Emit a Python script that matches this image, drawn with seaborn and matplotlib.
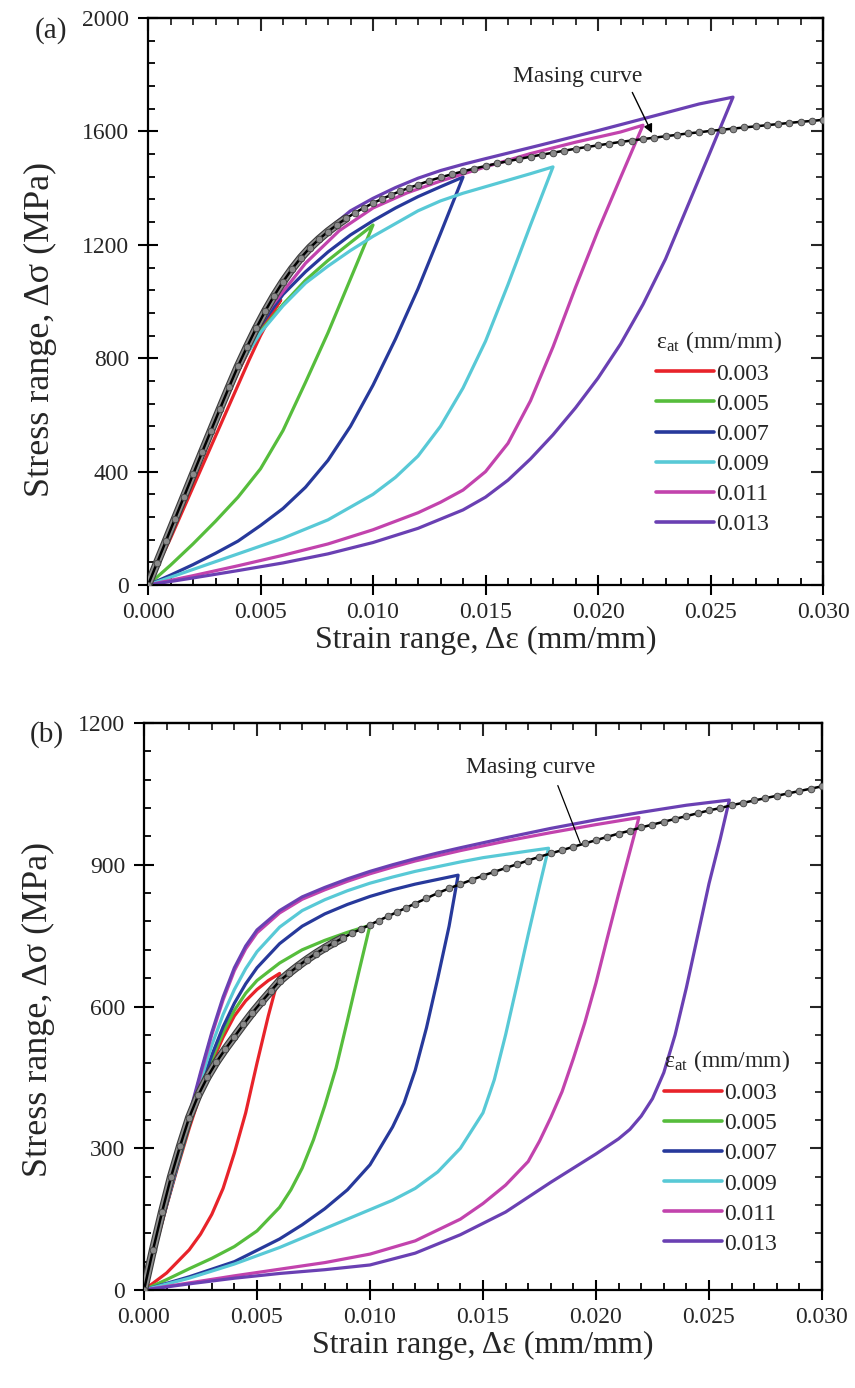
import matplotlib
matplotlib.use("Agg")
import matplotlib.pyplot as plt
import matplotlib.patheffects as pe
from matplotlib.ticker import MultipleLocator, FormatStrFormatter
import pandas as pd
import seaborn as sns

# amplitude levels and loop colours
AMPS = ["0.003", "0.005", "0.007", "0.009", "0.011", "0.013"]
COLORS = ["#e8232a", "#56bd3c", "#27399b", "#58c9d6", "#c243ad", "#6a40b3"]

# Masing curve (strain grid shared by both panels)
MASING_EPS = [0.0000, 0.0004, 0.0008, 0.0012, 0.0016, 0.0020, 0.0024, 0.0028, 0.0032, 0.0036,
              0.0040, 0.0044, 0.0048, 0.0052, 0.0056, 0.0060, 0.0064, 0.0068, 0.0072, 0.0076,
              0.0080, 0.0084, 0.0088, 0.0092, 0.0096, 0.0100, 0.0104, 0.0108, 0.0112, 0.0116,
              0.0120, 0.0125, 0.0130, 0.0135, 0.0140, 0.0145, 0.0150, 0.0155, 0.0160, 0.0165,
              0.0170, 0.0175, 0.0180, 0.0185, 0.0190, 0.0195, 0.0200, 0.0205, 0.0210, 0.0215,
              0.0220, 0.0225, 0.0230, 0.0235, 0.0240, 0.0245, 0.0250, 0.0255, 0.0260, 0.0265,
              0.0270, 0.0275, 0.0280, 0.0285, 0.0290, 0.0295, 0.0300]
MASING_A_SIG = [0, 78, 156, 234, 312, 390, 468, 545, 622, 698,
                772, 840, 905, 965, 1020, 1070, 1115, 1155, 1190, 1220,
                1247, 1271, 1293, 1313, 1331, 1347, 1362, 1376, 1389, 1401,
                1412, 1426, 1438, 1449, 1459, 1469, 1478, 1487, 1495, 1503,
                1511, 1518, 1525, 1532, 1539, 1545, 1551, 1557, 1563, 1568,
                1573, 1578, 1583, 1588, 1593, 1597, 1602, 1606, 1610, 1614,
                1618, 1622, 1626, 1630, 1634, 1637, 1641]
MASING_B_SIG = [0, 85, 165, 240, 305, 365, 412, 450, 482, 510,
                536, 562, 587, 610, 632, 654, 670, 685, 699, 712,
                724, 735, 745, 755, 764, 773, 782, 791, 800, 809,
                818, 829, 840, 850, 859, 868, 877, 885, 893, 901,
                909, 917, 924, 931, 938, 945, 952, 959, 966, 972,
                979, 985, 991, 997, 1003, 1009, 1015, 1020, 1026, 1031,
                1036, 1041, 1046, 1051, 1056, 1061, 1066]

# panel (a) loops: upper and lower branches, (strain range, stress range MPa)
A_UP_003 = [(0, 0), (0.001, 190), (0.002, 382), (0.003, 570), (0.004, 752), (0.0045, 830),
            (0.005, 900), (0.0055, 960), (0.0059, 1005)]
A_LO_003 = [(0, 0), (0.001, 165), (0.002, 345), (0.003, 525), (0.0035, 615), (0.004, 705),
            (0.0045, 795), (0.005, 880), (0.0055, 955), (0.0059, 1005)]
A_UP_005 = [(0, 0), (0.001, 195), (0.002, 390), (0.003, 582), (0.004, 768), (0.0045, 838),
            (0.005, 895), (0.006, 990), (0.007, 1075), (0.008, 1145), (0.009, 1208), (0.010, 1270)]
A_LO_005 = [(0, 0), (0.001, 70), (0.002, 145), (0.003, 225), (0.004, 310), (0.005, 410),
            (0.006, 545), (0.007, 715), (0.008, 890), (0.009, 1080), (0.010, 1270)]
A_UP_007 = [(0, 0), (0.001, 195), (0.002, 390), (0.003, 582), (0.004, 768), (0.005, 915),
            (0.006, 1025), (0.007, 1105), (0.008, 1175), (0.009, 1235), (0.010, 1285),
            (0.011, 1330), (0.012, 1370), (0.013, 1405), (0.014, 1439)]
A_LO_007 = [(0, 0), (0.001, 35), (0.002, 72), (0.003, 112), (0.004, 155), (0.005, 210),
            (0.006, 270), (0.007, 345), (0.008, 440), (0.009, 560), (0.010, 705),
            (0.011, 868), (0.012, 1045), (0.013, 1240), (0.014, 1439)]
A_UP_009 = [(0, 0), (0.001, 195), (0.002, 390), (0.003, 580), (0.004, 765), (0.005, 890),
            (0.006, 985), (0.007, 1065), (0.008, 1125), (0.009, 1180), (0.010, 1230),
            (0.011, 1275), (0.012, 1320), (0.013, 1355), (0.014, 1382), (0.015, 1405),
            (0.016, 1428), (0.017, 1451), (0.018, 1475)]
A_LO_009 = [(0, 0), (0.002, 55), (0.004, 110), (0.006, 165), (0.008, 230), (0.010, 320),
            (0.011, 380), (0.012, 455), (0.013, 560), (0.014, 695), (0.015, 860),
            (0.016, 1060), (0.017, 1270), (0.018, 1475)]
A_UP_011 = [(0, 0), (0.001, 196), (0.002, 392), (0.003, 585), (0.004, 770), (0.005, 920),
            (0.0055, 985), (0.007, 1135), (0.0085, 1250), (0.010, 1330), (0.0115, 1383),
            (0.013, 1425), (0.015, 1475), (0.017, 1522), (0.019, 1562), (0.021, 1598),
            (0.022, 1622)]
A_LO_011 = [(0, 0), (0.002, 33), (0.004, 68), (0.006, 105), (0.008, 145), (0.010, 195),
            (0.012, 255), (0.013, 292), (0.014, 335), (0.015, 400), (0.016, 500),
            (0.017, 650), (0.018, 840), (0.019, 1050), (0.020, 1250), (0.021, 1437),
            (0.022, 1622)]
A_UP_013 = [(0, 0), (0.001, 200), (0.002, 400), (0.003, 595), (0.004, 785), (0.005, 940),
            (0.006, 1075), (0.007, 1180), (0.008, 1255), (0.009, 1320), (0.010, 1364),
            (0.011, 1402), (0.012, 1435), (0.013, 1462), (0.014, 1484), (0.015, 1504),
            (0.0175, 1553), (0.020, 1603), (0.0225, 1655), (0.0245, 1697), (0.026, 1721)]
A_LO_013 = [(0, 0), (0.002, 25), (0.004, 51), (0.006, 78), (0.008, 110), (0.010, 150),
            (0.012, 200), (0.014, 265), (0.015, 310), (0.016, 370), (0.017, 445),
            (0.018, 530), (0.019, 625), (0.020, 730), (0.021, 850), (0.022, 990),
            (0.023, 1150), (0.024, 1340), (0.025, 1530), (0.026, 1721)]

# panel (b) loops
B_UP_003 = [(0, 0), (0.0005, 90), (0.001, 178), (0.0015, 262), (0.002, 342), (0.0025, 415),
            (0.003, 480), (0.0035, 535), (0.004, 580), (0.0045, 612), (0.005, 636),
            (0.0055, 655), (0.006, 670)]
B_LO_003 = [(0, 0), (0.001, 36), (0.002, 85), (0.0025, 118), (0.003, 160), (0.0035, 215),
            (0.004, 290), (0.0045, 375), (0.005, 480), (0.0055, 580), (0.006, 670)]
B_UP_005 = [(0, 0), (0.0005, 92), (0.001, 180), (0.0015, 265), (0.002, 348), (0.0025, 422),
            (0.003, 488), (0.0035, 545), (0.004, 592), (0.0045, 628), (0.005, 655),
            (0.006, 692), (0.007, 720), (0.008, 740), (0.009, 757), (0.010, 772)]
B_LO_005 = [(0, 0), (0.001, 22), (0.002, 45), (0.003, 67), (0.004, 92), (0.005, 125),
            (0.006, 175), (0.0065, 212), (0.007, 258), (0.0075, 318), (0.008, 390),
            (0.0085, 470), (0.009, 570), (0.0095, 672), (0.010, 772)]
B_UP_007 = [(0, 0), (0.0005, 92), (0.001, 180), (0.0015, 266), (0.002, 350), (0.0025, 428),
            (0.003, 497), (0.0035, 557), (0.004, 607), (0.0045, 648), (0.005, 682),
            (0.006, 733), (0.007, 770), (0.008, 796), (0.009, 816), (0.010, 833),
            (0.011, 847), (0.012, 859), (0.013, 869), (0.0139, 878)]
B_LO_007 = [(0, 0), (0.002, 28), (0.004, 60), (0.006, 108), (0.007, 138), (0.008, 172),
            (0.009, 212), (0.010, 265), (0.011, 345), (0.0115, 395), (0.012, 465),
            (0.0125, 555), (0.013, 660), (0.0135, 770), (0.0139, 878)]
B_UP_009 = [(0, 0), (0.0005, 93), (0.001, 182), (0.0015, 270), (0.002, 358), (0.0025, 442),
            (0.003, 518), (0.0035, 583), (0.004, 636), (0.0045, 680), (0.005, 716),
            (0.006, 768), (0.007, 803), (0.008, 826), (0.009, 845), (0.010, 861),
            (0.011, 874), (0.012, 886), (0.013, 896), (0.014, 906), (0.015, 915),
            (0.016, 922), (0.017, 929), (0.0179, 935)]
B_LO_009 = [(0, 0), (0.002, 25), (0.004, 55), (0.006, 90), (0.008, 130), (0.010, 170),
            (0.011, 190), (0.012, 215), (0.013, 250), (0.014, 300), (0.015, 375),
            (0.0155, 445), (0.016, 540), (0.0165, 645), (0.017, 752), (0.0175, 855),
            (0.0179, 935)]
B_UP_011 = [(0, 0), (0.0005, 93), (0.001, 182), (0.0015, 272), (0.002, 365), (0.0025, 455),
            (0.003, 540), (0.0035, 614), (0.004, 676), (0.0045, 722), (0.005, 756),
            (0.006, 798), (0.007, 827), (0.008, 847), (0.009, 865), (0.010, 881),
            (0.011, 895), (0.012, 908), (0.013, 919), (0.014, 930), (0.016, 950),
            (0.018, 968), (0.020, 985), (0.0219, 1000)]
B_LO_011 = [(0, 0), (0.002, 15), (0.004, 30), (0.006, 44), (0.008, 58), (0.010, 76),
            (0.012, 104), (0.014, 150), (0.015, 183), (0.016, 222), (0.017, 272),
            (0.0175, 315), (0.018, 365), (0.0185, 420), (0.019, 490), (0.0195, 565),
            (0.020, 650), (0.0205, 745), (0.021, 838), (0.0219, 1000)]
B_UP_013 = [(0, 0), (0.0005, 95), (0.001, 185), (0.0015, 275), (0.002, 370), (0.0025, 460),
            (0.003, 545), (0.0035, 620), (0.004, 682), (0.0045, 728), (0.005, 762),
            (0.006, 803), (0.007, 832), (0.008, 852), (0.009, 870), (0.010, 886),
            (0.011, 900), (0.012, 913), (0.013, 925), (0.014, 936), (0.016, 957),
            (0.018, 977), (0.020, 995), (0.022, 1011), (0.024, 1026), (0.0259, 1037)]
B_LO_013 = [(0, 0), (0.002, 13), (0.004, 25), (0.006, 35), (0.008, 43), (0.010, 53),
            (0.012, 78), (0.014, 117), (0.016, 165), (0.018, 228), (0.019, 258),
            (0.020, 288), (0.021, 320), (0.0215, 340), (0.022, 368), (0.0225, 405),
            (0.023, 460), (0.0235, 540), (0.024, 640), (0.0245, 750), (0.025, 860),
            (0.0255, 955), (0.0259, 1037)]

LOOPS_A = [(A_UP_003, A_LO_003), (A_UP_005, A_LO_005), (A_UP_007, A_LO_007),
           (A_UP_009, A_LO_009), (A_UP_011, A_LO_011), (A_UP_013, A_LO_013)]
LOOPS_B = [(B_UP_003, B_LO_003), (B_UP_005, B_LO_005), (B_UP_007, B_LO_007),
           (B_UP_009, B_LO_009), (B_UP_011, B_LO_011), (B_UP_013, B_LO_013)]

X_TICKS = [0.000, 0.005, 0.010, 0.015, 0.020, 0.025, 0.030]
Y_TICKS_A = [0, 400, 800, 1200, 1600, 2000]
Y_TICKS_B = [0, 300, 600, 900, 1200]


def loops_frame(loops):
    parts = []
    for amp, (upper, lower) in zip(AMPS, loops):
        pts = list(upper) + list(reversed(lower))[1:]  # close the loop
        d = pd.DataFrame(pts, columns=["eps", "sig"])
        d["amp"] = amp
        parts.append(d)
    return pd.concat(parts, ignore_index=True)


def style_axes(ax, yticks, ymax, yminor):
    ax.set_xlim(0, 0.030)
    ax.set_ylim(0, ymax)
    ax.set_xticks(X_TICKS)
    ax.set_yticks(yticks)
    ax.xaxis.set_major_formatter(FormatStrFormatter("%.3f"))
    ax.xaxis.set_minor_locator(MultipleLocator(0.001))
    ax.yaxis.set_minor_locator(MultipleLocator(yminor))
    ax.tick_params(which="major", direction="inout", length=15, width=1.5,
                   labelsize=17, color="black")
    ax.tick_params(axis="x", which="major", pad=5)
    ax.tick_params(axis="y", which="major", pad=6)
    ax.tick_params(which="minor", direction="in", length=5, width=1.3, color="black")
    for s in ax.spines.values():
        s.set_linewidth(1.6)
        s.set_color("black")
    # inward ticks on top and right sides
    top = ax.secondary_xaxis("top")
    top.set_xticks(X_TICKS)
    top.xaxis.set_minor_locator(MultipleLocator(0.001))
    top.tick_params(which="major", direction="in", length=9, width=1.5, labeltop=False)
    top.tick_params(which="minor", direction="in", length=5, width=1.3)
    top.spines["top"].set_linewidth(1.6)
    right = ax.secondary_yaxis("right")
    right.set_yticks(yticks)
    right.yaxis.set_minor_locator(MultipleLocator(yminor))
    right.tick_params(which="major", direction="in", length=9, width=1.5, labelright=False)
    right.tick_params(which="minor", direction="in", length=5, width=1.3)
    right.spines["right"].set_linewidth(1.6)

    ax.set_xlabel("Strain range, Δε (mm/mm)", fontsize=23)
    ax.set_ylabel("Stress range, Δσ (MPa)", fontsize=26)
    ax.xaxis.label.set_va("center")
    ax.yaxis.label.set_va("center")


def draw_panel(ax, loops, masing_sig):
    df = loops_frame(loops)
    sns.lineplot(data=df, x="eps", y="sig", hue="amp", hue_order=AMPS, palette=COLORS,
                 sort=False, estimator=None, linewidth=2.3, ax=ax)
    mas = pd.DataFrame({"eps": MASING_EPS, "sig": masing_sig})
    dense = mas[mas["eps"] <= 0.009]
    sns.lineplot(data=dense, x="eps", y="sig", sort=False, estimator=None, color="#8d8d8d",
                 linewidth=4.4, legend=False, ax=ax, zorder=4,
                 path_effects=[pe.Stroke(linewidth=6.0, foreground="#3c3c3c"), pe.Normal()])
    sns.lineplot(data=mas, x="eps", y="sig", sort=False, estimator=None, color="black",
                 linewidth=1.8, marker="o", markersize=4.8, markerfacecolor="#8a8a8a",
                 markeredgecolor="#404040", markeredgewidth=0.6, legend=False, ax=ax, zorder=5)

    handles, labels = ax.get_legend_handles_labels()
    for h in handles:
        h.set_linewidth(2.6)
    ax.legend(handles[:6], labels[:6], title="ε$_{\\mathregular{at}}$ (mm/mm)",
              loc="upper left", frameon=False, fontsize=17, title_fontsize=17,
              handlelength=2.45, handletextpad=0.08, labelspacing=0.36,
              borderpad=0, borderaxespad=0, alignment="left")


sns.set_style("ticks")
plt.rcParams["font.family"] = ["Liberation Serif", "DejaVu Serif"]
plt.rcParams["mathtext.fontset"] = "stix"

fig = plt.figure(figsize=(8.55, 13.88), dpi=100)
ax_a = fig.add_axes([0.1731, 0.5785, 0.7895, 0.4085])
ax_b = fig.add_axes([0.1684, 0.0706, 0.7930, 0.4085])

draw_panel(ax_a, LOOPS_A, MASING_A_SIG)
style_axes(ax_a, Y_TICKS_A, 2000, 80)
ax_a.get_legend().set_bbox_to_anchor((0.753, 0.452))
ax_a.xaxis.set_label_coords(0.5, -0.097)
ax_a.yaxis.set_label_coords(-0.16, 0.45)
ax_a.annotate("Masing curve", xy=(0.0224, 1594), xytext=(0.0191, 1795),
              ha="center", va="center", fontsize=17, zorder=6,
              arrowprops=dict(arrowstyle="-|>", color="black", lw=1.0, mutation_scale=13,
                              relpos=(0.9, 0.0), shrinkA=2, shrinkB=0))

draw_panel(ax_b, LOOPS_B, MASING_B_SIG)
style_axes(ax_b, Y_TICKS_B, 1200, 60)
ax_b.get_legend().set_bbox_to_anchor((0.767, 0.426))
ax_b.xaxis.set_label_coords(0.5, -0.097)
ax_b.yaxis.set_label_coords(-0.156, 0.494)
ax_b.annotate("Masing curve", xy=(0.0193, 946), xytext=(0.0171, 1105),
              ha="center", va="center", fontsize=17, zorder=6,
              arrowprops=dict(arrowstyle="-", color="black", lw=0.9,
                              relpos=(0.69, 0.0), shrinkA=3, shrinkB=0))

fig.text(35 / 855, 1 - 31 / 1388, "(a)", fontsize=21, ha="left", va="center")
fig.text(30 / 855, 1 - 735 / 1388, "(b)", fontsize=21, ha="left", va="center")

fig.savefig("out.png", dpi=100)
